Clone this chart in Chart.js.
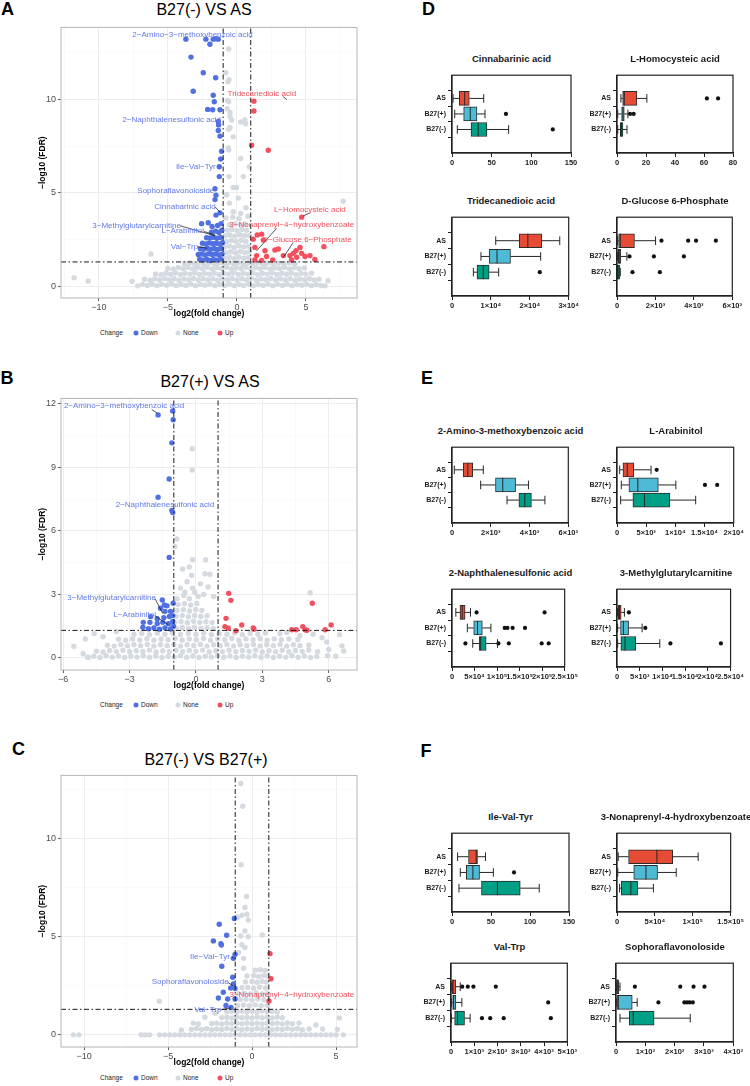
<!DOCTYPE html>
<html><head><meta charset="utf-8">
<script src="https://cdn.jsdelivr.net/npm/chart.js@4.4.1/dist/chart.umd.min.js"></script>
<style>
body{margin:0;background:#fff;width:750px;height:1086px;position:relative;overflow:hidden;font-family:"Liberation Sans",Arial,sans-serif;}
canvas{position:absolute;}
.t{position:absolute;white-space:nowrap;line-height:1;transform:translate(-50%,-50%);color:#000;}
.letter{font-weight:bold;font-size:18px;}
.vtitle{font-size:16px;}
.btitle{font-size:9.5px;font-weight:bold;color:#1a1a1a;}
.leg{position:absolute;white-space:nowrap;font-size:6.5px;line-height:1;color:#222;transform:translateY(-50%);}
.dot{position:absolute;width:5px;height:5px;border-radius:50%;transform:translate(-50%,-50%);}
</style></head><body>

<div class="t letter" style="left:7.5px;top:9px">A</div>
<div class="t letter" style="left:7px;top:377.5px">B</div>
<div class="t letter" style="left:18.5px;top:749px">C</div>
<div class="t letter" style="left:428.5px;top:8.5px">D</div>
<div class="t letter" style="left:427px;top:377.5px">E</div>
<div class="t letter" style="left:426px;top:750.5px">F</div>

<div class="t vtitle" style="left:204px;top:10px">B27(-) VS AS</div>
<div class="t vtitle" style="left:210px;top:382px">B27(+) VS AS</div>
<div class="t vtitle" style="left:206px;top:760px">B27(-) VS B27(+)</div>

<canvas id="va"></canvas><canvas id="vb"></canvas><canvas id="vc"></canvas>
<canvas id="b1"></canvas><canvas id="b2"></canvas><canvas id="b3"></canvas><canvas id="b4"></canvas>
<canvas id="b5"></canvas><canvas id="b6"></canvas><canvas id="b7"></canvas><canvas id="b8"></canvas>
<canvas id="b9"></canvas><canvas id="b10"></canvas><canvas id="b11"></canvas><canvas id="b12"></canvas>

<div id="legends"></div>
<div id="btitles"></div>

<script>
// ---------------- DATA ----------------
const FC_CUT = 1;
const FDR_CUT = 1.301;

// Volcano A: B27(-) VS AS  [log2FC, -log10 FDR]
const A_DOWN = [[-3.70,13.23],[-2.25,13.23],[-1.72,13.23],[-1.52,13.25],[-1.35,13.23],[-1.96,12.96],[-3.33,12.27],[-2.44,11.43],[-1.54,11.16],[-3.17,10.44],[-1.72,10.23],[-1.64,9.88],[-2.12,9.47],[-1.76,9.45],[-1.23,9.45],[-1.35,8.82],[-1.33,8.64],[-1.35,8.34],[-1.23,8.04],[-1.11,7.23],[-1.18,6.81],[-1.28,6.40],[-1.28,5.87],[-1.59,5.22],[-1.52,4.87],[-1.59,4.64],[-1.23,3.93],[-1.52,3.81],
[-2.7,1.45],[-2.45,1.4],[-2.2,1.45],[-1.95,1.38],[-1.7,1.44],[-1.45,1.4],[-1.2,1.45],
[-2.8,1.7],[-2.55,1.72],[-2.3,1.68],[-2.05,1.74],[-1.8,1.7],[-1.55,1.73],[-1.3,1.68],[-1.08,1.72],
[-2.65,2.0],[-2.4,1.98],[-2.15,2.03],[-1.9,1.98],[-1.65,2.02],[-1.4,1.97],[-1.15,2.02],
[-2.5,2.3],[-2.25,2.27],[-2.0,2.32],[-1.75,2.28],[-1.5,2.3],[-1.25,2.26],[-1.05,2.33],
[-2.2,2.6],[-1.95,2.58],[-1.7,2.62],[-1.45,2.57],[-1.2,2.61],
[-2.56,3.35],[-2.08,3.4],[-1.85,2.9],[-1.55,2.95],[-1.3,2.88],[-1.1,3.0],[-1.4,3.25],[-1.15,3.35],[-1.8,3.2]];
const A_UP = [[1.23,9.91],[1.23,9.38],[1.06,7.55],[2.27,7.28],[4.69,3.70],[1.18,2.52],[1.47,2.75],[1.79,2.79],[1.91,2.47],[1.30,2.08],[1.43,1.64],[2.03,1.90],[2.15,1.59],[2.75,1.94],[3.0,1.99],[3.36,1.64],[3.84,1.64],[4.28,1.90],[4.57,2.08],[4.33,1.55],[4.69,1.76],[4.93,1.59],[5.29,1.64],[5.65,1.43],[6.30,2.12],[2.59,1.41],[1.79,1.38],[1.30,1.41],[3.96,1.41],[4.08,1.76]];
const A_NONE = [
[-7.2,0.02],[-6.85,0.1],[-6.5,0.04],[-6.15,0.12],[-5.8,0.03],[-5.45,0.1],[-5.1,0.05],[-4.75,0.13],[-4.4,0.03],[-4.05,0.09],[-3.7,0.04],[-3.35,0.12],[-3.0,0.03],[-2.65,0.1],[-2.3,0.05],[-1.95,0.12],[-1.6,0.03],[-1.25,0.09],[-0.9,0.04],[-0.55,0.12],[-0.2,0.03],[0.15,0.1],[0.5,0.04],[0.85,0.12],[1.2,0.03],[1.55,0.09],[1.9,0.04],[2.25,0.12],[2.6,0.03],[2.95,0.1],[3.3,0.04],[3.65,0.12],[4.0,0.03],[4.35,0.09],[4.7,0.05],[5.05,0.11],[5.4,0.03],[5.75,0.08],[6.1,0.04],[6.38,0.02],
[-6.7,0.38],[-6.3,0.32],[-5.95,0.4],[-5.6,0.33],[-5.25,0.41],[-4.9,0.34],[-4.55,0.4],[-4.2,0.32],[-3.85,0.39],[-3.5,0.35],[-3.15,0.42],[-2.8,0.33],[-2.45,0.4],[-2.1,0.34],[-1.75,0.41],[-1.4,0.32],[-1.05,0.39],[-0.7,0.35],[-0.35,0.42],[0.0,0.33],[0.35,0.4],[0.7,0.34],[1.05,0.41],[1.4,0.32],[1.75,0.39],[2.1,0.35],[2.45,0.42],[2.8,0.33],[3.15,0.4],[3.5,0.34],[3.85,0.41],[4.2,0.32],[4.55,0.39],[4.9,0.35],[5.25,0.4],[5.6,0.33],[5.95,0.38],
[-5.9,0.66],[-5.5,0.62],[-5.15,0.7],[-4.8,0.64],[-4.45,0.71],[-4.1,0.63],[-3.75,0.69],[-3.4,0.65],[-3.05,0.72],[-2.7,0.63],[-2.35,0.7],[-2.0,0.64],[-1.65,0.71],[-1.3,0.62],[-0.95,0.69],[-0.6,0.65],[-0.25,0.72],[0.1,0.63],[0.45,0.7],[0.8,0.64],[1.15,0.71],[1.5,0.62],[1.85,0.69],[2.2,0.65],[2.55,0.72],[2.9,0.63],[3.25,0.7],[3.6,0.64],[3.95,0.71],[4.3,0.62],[4.65,0.69],[5.0,0.65],[5.4,0.7],
[-5.0,0.95],[-4.6,0.92],[-4.25,1.0],[-3.9,0.94],[-3.55,1.01],[-3.2,0.93],[-2.85,0.99],[-2.5,0.95],[-2.15,1.02],[-1.8,0.93],[-1.45,1.0],[-1.1,0.94],[-0.75,1.01],[-0.4,0.92],[-0.05,0.99],[0.3,0.95],[0.65,1.02],[1.0,0.93],[1.35,1.0],[1.7,0.94],[2.05,1.01],[2.4,0.92],[2.75,0.99],[3.1,0.95],[3.45,1.02],[3.8,0.93],[4.15,1.0],[4.5,0.94],[4.9,0.98],
[-3.8,1.2],[-3.4,1.25],[-3.05,1.18],[-2.7,1.24],[-2.35,1.2],[-2.0,1.26],[-1.65,1.19],[-1.3,1.25],[-0.95,1.21],[-0.6,1.27],[-0.25,1.2],[0.1,1.26],[0.45,1.19],[0.8,1.25],[1.15,1.21],[1.5,1.27],[1.85,1.2],[2.2,1.25],[2.6,1.19],[3.0,1.24],[3.4,1.2],[3.8,1.25],[4.2,1.21],
[-0.9,1.5],[-0.55,1.55],[-0.2,1.48],[0.15,1.56],[0.5,1.5],[0.85,1.54],
[-0.8,1.8],[-0.45,1.85],[-0.1,1.78],[0.25,1.86],[0.6,1.8],[0.9,1.84],
[-0.9,2.1],[-0.55,2.15],[-0.2,2.08],[0.15,2.16],[0.5,2.1],[0.85,2.13],
[-0.75,2.4],[-0.4,2.45],[-0.05,2.38],[0.3,2.46],[0.65,2.4],
[-0.85,2.7],[-0.5,2.74],[-0.15,2.68],[0.2,2.76],[0.55,2.7],[0.9,2.72],
[-0.7,3.0],[-0.35,3.05],[0.0,2.98],[0.35,3.04],[0.7,3.0],
[-0.55,3.3],[-0.15,3.35],[0.25,3.28],[0.6,3.33],
[-0.8,3.65],[-0.3,3.7],[0.15,3.62],[0.8,3.75],[-0.27,3.99],[0.27,3.9],[0.65,4.2],[-0.55,4.45],[0.1,4.72],[-0.75,4.9],[-0.27,5.29],[-0.03,5.29],[-0.58,5.87],[0.46,5.87],[0.89,6.4],[0.27,6.84],[-0.63,7.4],[-0.6,7.3],[-0.27,8.0],[-0.6,8.4],[-0.5,8.5],[0.27,8.8],[0.58,8.9],[0.63,8.7],[-0.38,8.9],[-0.5,9.1],[-0.5,9.3],[-0.7,9.5],[-0.6,9.88],[-0.68,9.95],[-0.57,11.06],[-0.65,10.95],[-0.8,11.43],[-0.6,12.7],
[-11.8,0.46],[-10.78,0.28],[-6.23,1.73],[7.7,4.55],[-7.6,0.25],[6.6,0.3]];

// Volcano B: B27(+) VS AS
const B_DOWN = [[-1.71,11.48],[-1.05,11.67],[-1.03,11.25],[-1.09,10.16],[-1.21,8.45],[-1.71,7.59],[-1.09,6.97],[-1.05,6.87],[-1.21,4.75],[-1.52,2.74],[-1.03,2.58],
[-2.4,1.45],[-2.15,1.38],[-1.9,1.42],[-1.65,1.36],[-1.4,1.42],[-1.15,1.37],[-1.02,1.5],
[-2.38,1.68],[-2.08,1.68],[-1.75,1.63],[-1.5,1.68],[-1.25,1.62],[-1.05,1.72],
[-2.05,1.95],[-1.75,1.85],[-1.45,1.9],[-1.2,1.96],[-1.05,2.0],[-1.4,2.2],[-1.15,2.2],[-1.43,2.5],[-1.31,2.46],[-1.6,2.35]];
const B_UP = [[1.48,3.05],[1.58,2.72],[1.36,1.87],[1.31,1.48],[1.46,1.4],[1.81,1.29],[2.07,1.56],[2.59,1.42],[2.62,1.36],[4.33,1.33],[4.53,1.33],[4.83,1.48],[4.93,1.33],[5.02,1.31],[5.26,2.58],[5.84,1.33],[6.11,1.56]];
const B_NONE = [
[-4.9,0.03],[-4.62,0.08],[-4.34,0.02],[-4.06,0.1],[-3.78,0.04],[-3.5,0.09],[-3.22,0.02],[-2.94,0.08],[-2.66,0.04],[-2.38,0.1],[-2.1,0.03],[-1.82,0.09],[-1.54,0.02],[-1.26,0.08],[-0.98,0.04],[-0.7,0.1],[-0.42,0.03],[-0.14,0.09],[0.14,0.02],[0.42,0.08],[0.7,0.04],[0.98,0.1],[1.26,0.03],[1.54,0.09],[1.82,0.02],[2.1,0.08],[2.38,0.04],[2.66,0.1],[2.94,0.03],[3.22,0.09],[3.5,0.02],[3.78,0.08],[4.06,0.04],[4.34,0.1],[4.62,0.03],[4.9,0.09],[5.18,0.02],[5.46,0.07],[5.95,0.1],[6.32,0.08],
[-4.5,0.32],[-4.2,0.28],[-3.9,0.35],[-3.6,0.3],[-3.3,0.36],[-3.0,0.29],[-2.7,0.34],[-2.4,0.31],[-2.1,0.37],[-1.8,0.28],[-1.5,0.34],[-1.2,0.3],[-0.9,0.36],[-0.6,0.29],[-0.3,0.35],[0.0,0.31],[0.3,0.37],[0.6,0.28],[0.9,0.34],[1.2,0.3],[1.5,0.36],[1.8,0.29],[2.1,0.35],[2.4,0.31],[2.7,0.37],[3.0,0.28],[3.3,0.34],[3.6,0.3],[3.9,0.36],[4.2,0.29],[4.5,0.35],[4.8,0.31],[5.1,0.36],[5.5,0.3],
[-4.0,0.6],[-3.7,0.56],[-3.4,0.63],[-3.1,0.57],[-2.8,0.62],[-2.5,0.58],[-2.2,0.64],[-1.9,0.56],[-1.6,0.62],[-1.3,0.58],[-1.0,0.64],[-0.7,0.56],[-0.4,0.62],[-0.1,0.58],[0.2,0.64],[0.5,0.56],[0.8,0.62],[1.1,0.58],[1.4,0.64],[1.7,0.56],[2.0,0.62],[2.3,0.58],[2.6,0.64],[2.9,0.56],[3.2,0.62],[3.5,0.58],[3.8,0.64],[4.1,0.56],[4.4,0.62],[4.7,0.58],[5.1,0.6],
[-3.5,0.88],[-3.18,0.84],[-2.86,0.9],[-2.54,0.85],[-2.22,0.91],[-1.9,0.84],[-1.58,0.89],[-1.26,0.86],[-0.94,0.92],[-0.62,0.84],[-0.3,0.9],[0.02,0.86],[0.34,0.92],[0.66,0.84],[0.98,0.9],[1.3,0.86],[1.62,0.92],[1.94,0.84],[2.26,0.9],[2.58,0.86],[2.9,0.91],[3.22,0.84],[3.54,0.9],[3.86,0.86],[4.2,0.9],[4.6,0.86],
[-2.8,1.12],[-2.45,1.16],[-2.1,1.1],[-1.75,1.17],[-1.4,1.12],[-1.05,1.18],[-0.7,1.1],[-0.35,1.16],[0.0,1.12],[0.35,1.18],[0.7,1.1],[1.05,1.16],[1.4,1.12],[1.75,1.18],[2.1,1.1],[2.45,1.16],[2.8,1.12],[3.15,1.18],[3.8,1.14],
[-0.9,1.4],[-0.62,1.44],[-0.34,1.38],[-0.06,1.45],[0.22,1.4],[0.5,1.43],[0.78,1.39],
[-0.95,1.68],[-0.67,1.72],[-0.39,1.66],[-0.11,1.73],[0.17,1.68],[0.45,1.71],[0.73,1.67],
[-0.9,1.96],[-0.62,2.0],[-0.34,1.94],[-0.06,2.01],[0.22,1.96],[0.5,1.99],
[-0.85,2.24],[-0.57,2.28],[-0.29,2.22],[-0.01,2.29],[0.27,2.24],
[-0.8,2.52],[-0.52,2.56],[-0.24,2.5],[0.04,2.57],
[-0.3,2.8],[0.1,2.9],[-0.5,3.1],[-0.15,3.3],[0.35,3.0],[-0.4,3.6],[-0.2,3.9],[0.41,3.98],[0.63,3.95],[-0.15,4.64],[0.44,4.64],[-0.95,5.26],[-0.87,5.62],[-0.17,8.88],[-0.17,9.88],[-0.7,3.3],[0.8,2.9],[-0.6,4.2],[0.2,3.5],[-0.3,4.3],[-0.05,3.1],[0.55,3.35],[-0.85,2.8],[-0.55,2.95],
[5.16,3.08],[-5.52,0.55],[6.49,1.1],[6.6,0.57],[6.68,0.33],[5.91,0.75],[-5.1,0.2],[-4.87,0.02],[-5.0,0.9],[-4.6,1.15],[-4.2,1.0],[-3.6,1.25],[4.1,1.2],[4.7,1.05],[5.3,1.12],[5.7,0.95],[6.0,0.4]];

// Volcano C: B27(-) VS B27(+)
const C_DOWN = [[-1.05,5.93],[-1.95,5.64],[-1.51,5.08],[-2.30,4.79],[-1.85,4.65],[-1.82,4.58],[-1.01,4.10],[-1.11,3.90],[-1.80,3.50],[-1.15,2.94],[-1.11,2.60],[-1.27,2.39],[-1.01,2.36],[-1.71,2.17],[-2.0,1.88],[-1.45,1.83],[-1.01,1.83],[-1.55,1.50],[-1.25,1.40]];
const C_UP = [[1.07,4.14],[1.13,2.86],[1.01,1.73]];
const C_NONE = [
[-10.63,0],[-10.3,0],[-6.6,0],[-6.35,0],[-6.1,0],[-5.5,0],[-5.2,0],[-4.9,0],[-4.6,0],[-4.3,0],[-4.0,0],[-3.7,0],[-3.4,0],[-3.1,0],[-2.8,0],[-2.5,0],[-2.2,0],[-1.9,0],[-1.6,0],[-1.3,0],[-1.0,0],[-0.7,0],[-0.4,0],[-0.1,0],[0.2,0],[0.5,0],[0.8,0],[1.1,0],[1.4,0],[1.7,0],[2.0,0],[2.3,0],[2.6,0],[2.9,0],[3.2,0],[3.5,0],[3.8,0],[4.1,0],[4.4,0],[4.7,0],[5.0,0],[5.44,0],
[-3.6,0.28],[-3.3,0.32],[-3.0,0.27],[-2.7,0.31],[-2.4,0.26],[-2.1,0.3],[-1.8,0.27],[-1.5,0.32],[-1.2,0.28],[-0.9,0.31],[-0.6,0.26],[-0.3,0.3],[0.0,0.27],[0.3,0.32],[0.6,0.28],[0.9,0.31],[1.2,0.26],[1.5,0.3],[1.8,0.27],[2.1,0.32],[2.4,0.28],[2.7,0.31],[3.0,0.26],[3.4,0.3],
[-2.4,0.58],[-2.1,0.6],[-1.8,0.55],[-1.5,0.61],[-1.2,0.57],[-0.9,0.6],[-0.6,0.56],[-0.3,0.61],[0.0,0.57],[0.3,0.6],[0.6,0.55],[0.9,0.61],[1.2,0.57],[1.5,0.6],[1.8,0.56],[2.1,0.61],[2.4,0.57],
[-1.8,0.88],[-1.5,0.9],[-1.2,0.86],[-0.9,0.91],[-0.6,0.87],[-0.3,0.9],[0.0,0.86],[0.3,0.91],[0.6,0.87],[0.9,0.9],[1.2,0.86],[1.5,0.91],[1.8,0.87],
[-1.5,1.18],[-1.2,1.2],[-0.9,1.16],[-0.6,1.21],[-0.3,1.17],[0.0,1.2],[0.3,1.16],[0.6,1.21],[0.9,1.17],[1.2,1.2],[1.5,1.16],
[-0.85,1.5],[-0.5,1.52],[-0.15,1.48],[0.2,1.53],[0.55,1.49],[0.9,1.51],
[-0.7,1.8],[-0.35,1.82],[0.0,1.78],[0.35,1.83],[0.7,1.79],
[-0.8,2.1],[-0.45,2.12],[-0.1,2.08],[0.25,2.13],[0.6,2.09],[0.9,2.11],
[-0.6,2.4],[-0.25,2.42],[0.1,2.38],[0.45,2.43],[0.8,2.39],
[-0.4,2.7],[0.0,2.72],[0.3,2.68],[0.6,2.73],[0.85,2.69],
[-0.3,3.0],[0.1,3.02],[0.4,2.98],[0.7,3.03],[0.95,3.0],
[0.2,3.3],[0.5,3.32],[0.8,3.28],[-0.5,3.4],
[-0.65,8.68],[-0.32,7.06],[-0.42,6.5],[-0.22,5.86],[-0.42,5.3],[-0.67,5.04],[-0.22,5.0],[0.61,5.09],[-0.42,4.45],[-0.6,4.6],[-0.8,4.2],[-0.5,3.9],[-0.6,6.1],[-0.85,6.0],[-0.3,6.15],[-0.67,12.82],[-0.55,11.66],
[-5.52,1.71],[5.2,0.86],[5.08,0.28],[-3.2,0.55],[-2.8,0.9],[-3.5,0.6],[4.2,0.3],[3.8,0.5],[-2.2,1.1],[-4.2,0.25],[2.8,0.6]];

const A_LABELS = [
 {t:'2−Amino−3−methoxybenzoic acid', x:-3.22, y:13.46, c:'down'},
 {t:'Tridecanedioic acid', x:1.81, y:10.33, c:'up', l:[3.33,10.16,3.62,10.0]},
 {t:'2−Naphthalenesulfonic acid', x:-4.73, y:8.92, c:'down'},
 {t:'Ile−Val−Tyr', x:-2.98, y:6.37, c:'down'},
 {t:'Sophoraflavonoloside', x:-4.43, y:5.13, c:'down'},
 {t:'Cinnabarinic acid', x:-3.77, y:4.25, c:'down', l:[-1.59,4.25,-1.23,3.97]},
 {t:'3−Methylglutarylcarnitine', x:-7.27, y:3.24, c:'down', l:[-4.13,3.24,-1.59,2.70]},
 {t:'L−Arabinitol', x:-3.93, y:2.96, c:'down', l:[-2.39,2.93,-1.59,2.75]},
 {t:'Val−Trp', x:-3.80, y:2.12, c:'down', l:[-2.88,2.12,-2.15,2.03]},
 {t:'L−Homocysteic acid', x:5.28, y:4.07, c:'up', l:[5.29,3.93,4.80,3.76]},
 {t:'3−Nonaprenyl−4−hydroxybenzoate', x:3.97, y:3.28, c:'up', l:[2.87,3.10,1.43,1.90]},
 {t:'D−Glucose 6−Phosphate', x:5.07, y:2.49, c:'up', l:[4.08,2.34,3.36,1.55]}];
const B_LABELS = [
 {t:'2−Amino−3−methoxybenzoic acid', x:-3.25, y:11.92, c:'down', l:[-2.0,11.74,-1.75,11.56]},
 {t:'2−Naphthalenesulfonic acid', x:-1.40, y:7.25, c:'down'},
 {t:'3−Methylglutarylcarnitine', x:-3.81, y:2.82, c:'down', l:[-1.86,2.82,-1.5,2.1]},
 {t:'L−Arabinitol', x:-2.77, y:2.04, c:'down', l:[-1.86,1.99,-1.25,1.57]}];
const C_LABELS = [
 {t:'Ile−Val−Tyr', x:-2.5, y:3.98, c:'down', l:[-1.18,3.98,-1.11,3.90]},
 {t:'Sophoraflavonoloside', x:-3.68, y:2.73, c:'down', l:[-1.45,2.68,-1.15,2.51]},
 {t:'3−Nonaprenyl−4−hydroxybenzoate', x:2.37, y:2.03, c:'up'},
 {t:'Val−Trp', x:-2.63, y:1.28, c:'down', l:[-1.86,1.28,-1.25,1.38]}];

// axis ticks
const A_XMAJ=[-10,-5,0,5], A_XMIN=[-12.5,-7.5,-2.5,2.5,7.5], A_YMAJ=[0,5,10], A_YMIN=[2.5,7.5,12.5];
const B_XMAJ=[-6,-3,0,3,6], B_XMIN=[-4.5,-1.5,1.5,4.5], B_YMAJ=[0,3,6,9,12], B_YMIN=[1.5,4.5,7.5,10.5];
const C_XMAJ=[-10,-5,0,5], C_XMIN=[-7.5,-2.5,2.5], C_YMAJ=[0,5,10], C_YMIN=[2.5,7.5,12.5];

// Box plots: per group [lower whisker, Q1, median, Q3, upper whisker]
const GROUPS = ['AS','B27(+)','B27(-)'];
const CINNABARINIC = [[1.3,9.2,16,21.8,40],[3.4,14.7,23,31.5,41.6],[6.7,24,33,44,71.4]];
const CINNABARINIC_OUT = [[],[68],[127]];
const HOMOCYSTEIC = [[2.7,3.9,5,13.7,20.6],[0.5,3.2,4.1,5,7.5],[0.5,2.3,3,4.1,6.9]];
const HOMOCYSTEIC_OUT = [[62,69.7],[9,11.5],[]];
const TRIDECANEDIOIC = [[11240,17300,19500,23100,27700],[7440,9550,11580,15040,22800],[5490,6420,8030,9550,12000]];
const TRIDECANEDIOIC_OUT = [[],[],[22560]];
const G6P = [[34,86,171,909,2006],[20,69,120,189,514],[10,17,60,137,171]];
const G6P_OUT = [[2314,3703,4114,5143],[651,1920,3480],[806,2229]];
const AMINOMETHOXY = [[119,578,816,1071,1615],[1479,2244,2618,3280,3944],[2839,3451,3757,4097,4793]];
const AMINOMETHOXY_OUT = [[],[],[]];
const ARABINITOL = [[453,1020,1756,2890,5836],[736,2040,3569,7082,10085],[623,2720,4703,9065,13484]];
const ARABINITOL_OUT = [[6799],[15070,17167],[]];
const NAPHTHALENE = [[8500,17700,22660,29040,41080],[34000,48160,56660,67280,86400],[46030,60200,63740,75770,101000]];
const NAPHTHALENE_OUT = [[54530,205380],[117000,123000,134500,162000],[29740,103000,126060,199000,214580]];
const METHYLGLUTARYL = [[100,283,566,920,1629],[140,779,1416,2550,5524],[140,850,1770,4108,9419]];
const METHYLGLUTARYL_OUT = [[2620],[6232],[11756,22875]];
const ILEVALTYR = [[7.2,21.2,31,32.7,42.9],[10.6,18.3,26.8,35.3,53],[8.9,37.8,58.2,87.5,111.8]];
const ILEVALTYR_OUT = [[],[79.5],[]];
const NONAPRENYL = [[1700,15300,52700,73500,107100],[1000,22100,38240,53500,78190],[3400,5520,18270,27200,48020]];
const NONAPRENYL_OUT = [[],[],[]];
const VALTRP = [[14,42,85,212,397],[14,71,113,212,467],[14,156,283,581,822]];
const VALTRP_OUT = [[480,722,963,1926],[4178],[1331,1686,2266,4292]];
const SOPHORA = [[10,23,45,90,136],[10,34,79,554,723],[136,452,588,1299,2531]];
const SOPHORA_OUT = [[644,2192,2644,3017],[1446,2330,2420,2510,2620],[]];

const T150=[0,50,100,150], L150=['0','50','100','150'];
const T80=[0,20,40,60,80], L80=['0','20','40','60','80'];
const T3E4=[0,1e4,2e4,3e4], L3E4=['0','1×10⁴','2×10⁴','3×10⁴'];
const T6E3=[0,2000,4000,6000], L6E3=['0','2×10³','4×10³','6×10³'];
const T2E4=[0,5000,10000,15000,20000], L2E4=['0','5×10³','1×10⁴','1.5×10⁴','2×10⁴'];
const T25E5=[0,5e4,1e5,1.5e5,2e5,2.5e5], L25E5=['0','5×10⁴','1×10⁵','1.5×10⁵','2×10⁵','2.5×10⁵'];
const T25E4=[0,5e3,1e4,1.5e4,2e4,2.5e4], L25E4=['0','5×10³','1×10⁴','1.5×10⁴','2×10⁴','2.5×10⁴'];
const T15E5=[0,5e4,1e5,1.5e5], L15E5=['0','5×10⁴','1×10⁵','1.5×10⁵'];
const T5E3=[0,1000,2000,3000,4000,5000], L5E3=['0','1×10³','2×10³','3×10³','4×10³','5×10³'];
const T4E3=[0,1000,2000,3000,4000], L4E3=['0','1×10³','2×10³','3×10³','4×10³'];

// ---------------- STYLE ----------------
const FONT='"Liberation Sans", Arial, sans-serif';
Chart.defaults.font.family=FONT;
const COL_DOWN='#5070E2', COL_UP='#F2505E', COL_NONE='#D4DAE0';
const TXT_DOWN='#6079E6', TXT_UP='#F0505C';
const GROUP_COLORS=['#E64B35','#4DBBD5','#00A087'];
const PR=2.7;

const framePlugin={id:'frame',afterDraw(ch,a,o){const c=ch.chartArea,x=ch.ctx;x.save();x.strokeStyle=o.color;x.lineWidth=o.width;x.strokeRect(c.left,c.top,c.right-c.left,c.bottom-c.top);x.restore();}};
const labelPlugin={id:'vlabels',afterDatasetsDraw(ch,a,o){const x=ch.ctx,sx=ch.scales.x,sy=ch.scales.y;x.save();
  (o.items||[]).forEach(L=>{ if(L.l){x.strokeStyle='#111';x.lineWidth=0.7;x.beginPath();x.moveTo(sx.getPixelForValue(L.l[0]),sy.getPixelForValue(L.l[1]));x.lineTo(sx.getPixelForValue(L.l[2]),sy.getPixelForValue(L.l[3]));x.stroke();}
   x.font='8px '+FONT;x.textAlign='center';x.textBaseline='middle';x.fillStyle=L.c==='up'?TXT_UP:TXT_DOWN;x.fillText(L.t,sx.getPixelForValue(L.x),sy.getPixelForValue(L.y));});
  x.restore();}};
const boxPlugin={id:'boxx',afterDatasetsDraw(ch,a,o){const x=ch.ctx,sx=ch.scales.x,sy=ch.scales.y;x.save();x.strokeStyle='#262626';x.lineWidth=1;
  o.stats.forEach((s,i)=>{const yc=sy.getPixelForValue(i),p=v=>sx.getPixelForValue(v);
    x.beginPath();x.moveTo(p(s[0]),yc);x.lineTo(p(s[1]),yc);x.moveTo(p(s[3]),yc);x.lineTo(p(s[4]),yc);
    x.moveTo(p(s[0]),yc-4.3);x.lineTo(p(s[0]),yc+4.3);x.moveTo(p(s[4]),yc-4.3);x.lineTo(p(s[4]),yc+4.3);
    x.moveTo(p(s[2]),yc-7);x.lineTo(p(s[2]),yc+7);x.stroke();});
  x.restore();}};

const fmtMinus=v=>v<0?'−'+Math.abs(v):String(v);
const pts=a=>a.map(p=>({x:p[0],y:p[1]}));

function makeVolcano(id,area,xr,yr,xmaj,xmin,ymaj,ymin,none,down,up,labels){
  const cv=document.getElementById(id);const padT=4,padR=13,xH=21;
  cv.width=area.r+padR;cv.height=area.b-area.t+padT+xH;cv.style.left='0px';cv.style.top=(area.t-padT)+'px';
  const thr=(d)=>({data:d,showLine:true,pointRadius:0,borderColor:'#1a1a1a',borderWidth:1,borderDash:[5,2.5,1.5,2.5],fill:false});
  const axis=(maj,mn,isX)=>({type:'linear',min:isX?xr[0]:yr[0],max:isX?xr[1]:yr[1],
    afterBuildTicks:s=>{s.ticks=maj.concat(mn).sort((a,b)=>a-b).map(v=>({value:v}));},
    afterFit:s=>{if(isX)s.height=xH;else s.width=area.l;},
    grid:{color:c=>maj.includes(c.tick.value)?'#EBEBEB':'#F5F5F5',lineWidth:c=>maj.includes(c.tick.value)?0.9:0.5,
      tickLength:3,tickWidth:0.8,tickColor:c=>maj.includes(c.tick.value)?'#333':'rgba(0,0,0,0)'},
    border:{display:false},
    ticks:{autoSkip:false,maxRotation:0,font:{size:9},color:'#4D4D4D',padding:isX?1:2,callback:v=>maj.includes(v)?fmtMinus(v):''},
    title:{display:true,text:isX?'log2(fold change)':'−log10 (FDR)',font:{size:8.5,weight:'bold'},color:'#000',padding:isX?{top:0,bottom:0}:{top:38,bottom:0}}});
  new Chart(cv,{type:'scatter',data:{datasets:[
    thr([{x:-FC_CUT,y:yr[0]},{x:-FC_CUT,y:yr[1]}]),thr([{x:FC_CUT,y:yr[0]},{x:FC_CUT,y:yr[1]}]),thr([{x:xr[0],y:FDR_CUT},{x:xr[1],y:FDR_CUT}]),
    {data:pts(up),backgroundColor:COL_UP,pointRadius:PR,borderWidth:0},
    {data:pts(down),backgroundColor:COL_DOWN,pointRadius:PR,borderWidth:0},
    {data:pts(none),backgroundColor:COL_NONE,pointRadius:PR,borderWidth:0}]},
   options:{responsive:false,animation:false,devicePixelRatio:1,events:[],layout:{padding:{top:padT,right:padR,left:0,bottom:0}},
    plugins:{legend:{display:false},tooltip:{enabled:false},frame:{color:'#B5B5B5',width:1},vlabels:{items:labels}},
    scales:{x:axis(xmaj,xmin,true),y:axis(ymaj,ymin,false)}},
   plugins:[framePlugin,labelPlugin]});
}

function makeBox(id,fr,stats,outs,tv,tl,title){
  const cv=document.getElementById(id);const yW=52,padT=6,padR=10,xH=20;
  cv.width=fr.r-fr.l+yW+padR;cv.height=fr.b-fr.t+padT+xH;cv.style.left=(fr.l-yW)+'px';cv.style.top=(fr.t-padT)+'px';
  const axStyle={grid:{drawOnChartArea:false,drawTicks:true,tickLength:4,tickColor:'#222',tickWidth:1},border:{display:true,color:'#222',width:1.2}};
  new Chart(cv,{type:'bar',data:{datasets:[
    {type:'scatter',data:outs.flatMap((arr,i)=>arr.map(v=>({x:v,y:i}))),pointRadius:2.1,backgroundColor:'#111',borderWidth:0},
    {type:'bar',data:stats.map((s,i)=>({y:i,x:[s[1],s[3]]})),backgroundColor:GROUP_COLORS,borderColor:'#2b2b2b',borderWidth:1,borderSkipped:false,barThickness:14}]},
   options:{indexAxis:'y',responsive:false,animation:false,devicePixelRatio:1,events:[],layout:{padding:{top:padT,right:padR,left:0,bottom:0}},
    plugins:{legend:{display:false},tooltip:{enabled:false},frame:{color:'#222',width:1.2},boxx:{stats:stats}},
    scales:{
     x:Object.assign({type:'linear',min:0,max:tv[tv.length-1],afterBuildTicks:s=>{s.ticks=tv.map(v=>({value:v}));},afterFit:s=>{s.height=xH;},
       ticks:{autoSkip:false,maxRotation:0,font:{size:7.5,weight:'bold'},color:'#222',padding:1,callback:v=>tl[tv.indexOf(v)]}},axStyle),
     y:Object.assign({type:'linear',min:-0.66,max:2.68,reverse:true,afterBuildTicks:s=>{s.ticks=[0,1,2].map(v=>({value:v}));},afterFit:s=>{s.width=yW;},
       ticks:{autoSkip:false,font:{size:7,weight:'bold'},color:'#222',padding:2,callback:v=>GROUPS[v]}},axStyle)}},
   plugins:[framePlugin,boxPlugin]});
  const d=document.createElement('div');d.className='t btitle';d.style.left=((fr.l+fr.r)/2)+'px';d.style.top=(fr.t-16)+'px';d.textContent=title;
  document.getElementById('btitles').appendChild(d);
}

function makeLegend(y){
  const host=document.getElementById('legends');
  const add=(html)=>{host.insertAdjacentHTML('beforeend',html);};
  add('<div class="leg" style="left:100px;top:'+y+'px">Change</div>');
  [[136,COL_DOWN,'Down'],[178,COL_NONE,'None'],[220,COL_UP,'Up']].forEach(([x,c,t])=>{
    add('<div class="dot" style="left:'+x+'px;top:'+y+'px;background:'+c+'"></div>');
    add('<div class="leg" style="left:'+(x+5)+'px;top:'+y+'px">'+t+'</div>');});
}

makeVolcano('va',{l:61,r:357,t:24,b:298},[-12.75,8.7],[-0.63,13.86],A_XMAJ,A_XMIN,A_YMAJ,A_YMIN,A_NONE,A_DOWN,A_UP,A_LABELS);
makeVolcano('vb',{l:61,r:357,t:395,b:670},[-6.1,7.28],[-0.57,12.26],B_XMAJ,B_XMIN,B_YMAJ,B_YMIN,B_NONE,B_DOWN,B_UP,B_LABELS);
makeVolcano('vc',{l:61,r:357,t:772,b:1047},[-11.37,6.25],[-0.62,13.23],C_XMAJ,C_XMIN,C_YMAJ,C_YMIN,C_NONE,C_DOWN,C_UP,C_LABELS);
makeLegend(333);makeLegend(705);makeLegend(1078);

makeBox('b1',{l:452,r:571,t:75,b:153},CINNABARINIC,CINNABARINIC_OUT,T150,L150,'Cinnabarinic acid');
makeBox('b2',{l:617,r:733,t:75,b:153},HOMOCYSTEIC,HOMOCYSTEIC_OUT,T80,L80,'L-Homocysteic acid');
makeBox('b3',{l:452,r:570,t:217,b:296},TRIDECANEDIOIC,TRIDECANEDIOIC_OUT,T3E4,L3E4,'Tridecanedioic acid');
makeBox('b4',{l:617,r:733,t:217,b:296},G6P,G6P_OUT,T6E3,L6E3,'D-Glucose 6-Phosphate');
makeBox('b5',{l:452,r:569,t:447,b:523},AMINOMETHOXY,AMINOMETHOXY_OUT,T6E3,L6E3,'2-Amino-3-methoxybenzoic acid');
makeBox('b6',{l:617,r:735,t:447,b:523},ARABINITOL,ARABINITOL_OUT,T2E4,L2E4,'L-Arabinitol');
makeBox('b7',{l:452,r:569,t:589,b:667},NAPHTHALENE,NAPHTHALENE_OUT,T25E5,L25E5,'2-Naphthalenesulfonic acid');
makeBox('b8',{l:617,r:735,t:589,b:667},METHYLGLUTARYL,METHYLGLUTARYL_OUT,T25E4,L25E4,'3-Methylglutarylcarnitine');
makeBox('b9',{l:452,r:569,t:833,b:912},ILEVALTYR,ILEVALTYR_OUT,T150,L150,'Ile-Val-Tyr');
makeBox('b10',{l:617,r:735,t:833,b:912},NONAPRENYL,NONAPRENYL_OUT,T15E5,L15E5,'3-Nonaprenyl-4-hydroxybenzoate');
makeBox('b11',{l:451,r:568,t:963,b:1042},VALTRP,VALTRP_OUT,T5E3,L5E3,'Val-Trp');
makeBox('b12',{l:616,r:734,t:963,b:1042},SOPHORA,SOPHORA_OUT,T4E3,L4E3,'Sophoraflavonoloside');
</script>
</body></html>
